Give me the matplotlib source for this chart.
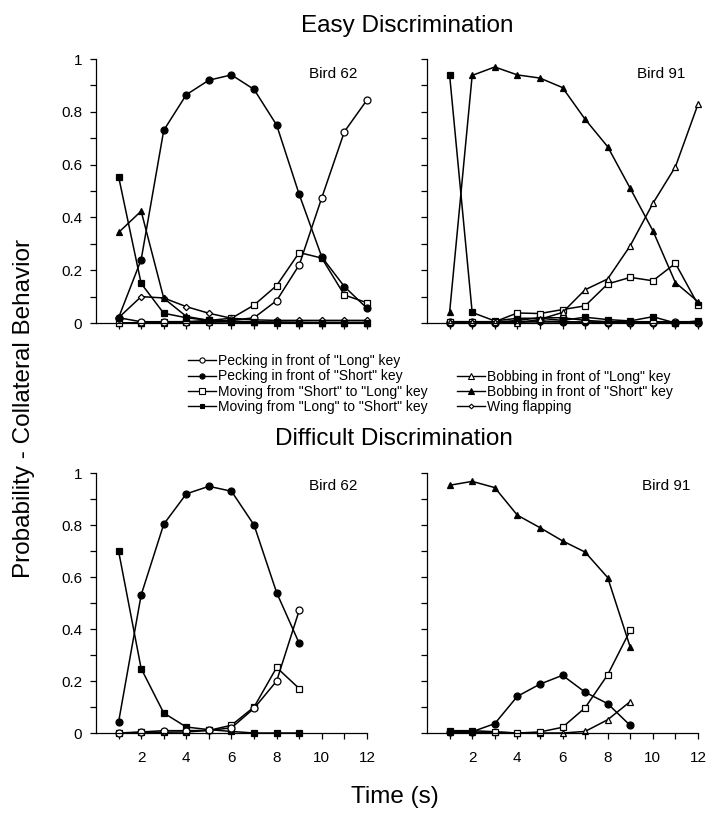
import numpy as np
import matplotlib.pyplot as plt
from matplotlib.lines import Line2D

plt.rcParams['font.family'] = ['Liberation Sans', 'DejaVu Sans']

# time bins (s)
t_easy = [1, 2, 3, 4, 5, 6, 7, 8, 9, 10, 11, 12]
t_diff = [1, 2, 3, 4, 5, 6, 7, 8, 9]

# Easy discrimination, Bird 62
e62_peck_long = [0.02, 0.005, 0.005, 0.005, 0.005, 0.01, 0.02, 0.085, 0.22, 0.475, 0.725, 0.845]
e62_peck_short = [0.02, 0.24, 0.73, 0.865, 0.92, 0.94, 0.885, 0.75, 0.487, 0.25, 0.138, 0.056]
e62_move_sl = [0.0, 0.002, 0.005, 0.005, 0.01, 0.018, 0.068, 0.142, 0.267, 0.246, 0.106, 0.077]
e62_move_ls = [0.555, 0.15, 0.037, 0.02, 0.01, 0.007, 0.005, 0.003, 0.002, 0.0, 0.0, 0.0]
e62_bob_long = [0.0, 0.0, 0.002, 0.003, 0.003, 0.004, 0.003, 0.003, 0.002, 0.002, 0.002, 0.002]
e62_bob_short = [0.343, 0.424, 0.094, 0.025, 0.01, 0.005, 0.003, 0.002, 0.002, 0.002, 0.002, 0.002]
e62_wing = [0.02, 0.10, 0.095, 0.062, 0.037, 0.018, 0.012, 0.01, 0.01, 0.01, 0.01, 0.01]

# Easy discrimination, Bird 91
e91_peck_long = [0.003, 0.003, 0.003, 0.01, 0.02, 0.02, 0.01, 0.005, 0.005, 0.005, 0.005, 0.005]
e91_peck_short = [0.002, 0.002, 0.002, 0.005, 0.008, 0.005, 0.003, 0.002, 0.002, 0.002, 0.002, 0.002]
e91_move_sl = [0.005, 0.005, 0.005, 0.038, 0.036, 0.051, 0.065, 0.148, 0.173, 0.16, 0.226, 0.07]
e91_move_ls = [0.94, 0.04, 0.008, 0.018, 0.018, 0.01, 0.022, 0.013, 0.008, 0.024, 0.0, 0.008]
e91_bob_long = [0.005, 0.005, 0.005, 0.0, 0.014, 0.04, 0.126, 0.167, 0.293, 0.453, 0.592, 0.829]
e91_bob_short = [0.04, 0.938, 0.97, 0.94, 0.928, 0.892, 0.772, 0.668, 0.51, 0.35, 0.153, 0.081]
e91_wing = [0.003, 0.003, 0.003, 0.003, 0.003, 0.003, 0.003, 0.003, 0.003, 0.003, 0.003, 0.003]

# Difficult discrimination, Bird 62
d62_peck_long = [0.0, 0.004, 0.009, 0.009, 0.01, 0.02, 0.095, 0.2, 0.472]
d62_peck_short = [0.042, 0.531, 0.803, 0.92, 0.949, 0.93, 0.80, 0.54, 0.345]
d62_move_sl = [0.0, 0.002, 0.003, 0.004, 0.01, 0.03, 0.1, 0.252, 0.171]
d62_move_ls = [0.70, 0.248, 0.077, 0.023, 0.013, 0.006, 0.0, 0.0, 0.0]

# Difficult discrimination, Bird 91
d91_peck_short = [0.005, 0.005, 0.036, 0.141, 0.188, 0.222, 0.157, 0.113, 0.029]
d91_move_sl = [0.009, 0.009, 0.005, 0.0, 0.004, 0.022, 0.097, 0.224, 0.395]
d91_bob_long = [0.003, 0.003, 0.003, 0.0, 0.0, 0.0, 0.006, 0.051, 0.121]
d91_bob_short = [0.953, 0.968, 0.944, 0.838, 0.79, 0.739, 0.696, 0.598, 0.33]

labels = ['Pecking in front of "Long" key', 'Pecking in front of "Short" key',
          'Moving from "Short" to "Long" key', 'Moving from "Long" to "Short" key',
          'Bobbing in front of "Long" key', 'Bobbing in front of "Short" key',
          'Wing flapping']

# marker style for each behaviour: (marker, facecolor, size)
styles = {
    'peck_long': ('o', 'white', 5),
    'peck_short': ('o', 'black', 5),
    'move_sl': ('s', 'white', 5),
    'move_ls': ('s', 'black', 4.5),
    'bob_long': ('^', 'white', 5),
    'bob_short': ('^', 'black', 5),
    'wing': ('D', 'white', 3.2),
}
keys = ['peck_long', 'peck_short', 'move_sl', 'move_ls', 'bob_long', 'bob_short', 'wing']


def draw(ax, t, series):
    for k, y in series:
        m, fc, ms = styles[k]
        ax.plot(t, y, color='black', lw=1.1, marker=m, ms=ms, mfc=fc, mec='black',
                mew=0.9, clip_on=False)


fig = plt.figure(figsize=(7.19, 8.18), dpi=100)
W = 0.3769
ax_tl = fig.add_axes([0.1335, 0.6051, W, 0.3227])
ax_tr = fig.add_axes([0.5939, 0.6051, W, 0.3227])
ax_bl = fig.add_axes([0.1335, 0.1039, W, 0.3178])
ax_br = fig.add_axes([0.5939, 0.1039, W, 0.3178])

draw(ax_tl, t_easy, [('wing', e62_wing), ('bob_long', e62_bob_long), ('move_sl', e62_move_sl),
                     ('peck_long', e62_peck_long), ('move_ls', e62_move_ls),
                     ('bob_short', e62_bob_short), ('peck_short', e62_peck_short)])
draw(ax_tr, t_easy, [('wing', e91_wing), ('peck_short', e91_peck_short), ('peck_long', e91_peck_long),
                     ('move_ls', e91_move_ls), ('move_sl', e91_move_sl),
                     ('bob_long', e91_bob_long), ('bob_short', e91_bob_short)])
draw(ax_bl, t_diff, [('move_ls', d62_move_ls), ('move_sl', d62_move_sl),
                     ('peck_long', d62_peck_long), ('peck_short', d62_peck_short)])
draw(ax_br, t_diff, [('bob_long', d91_bob_long), ('move_sl', d91_move_sl),
                     ('peck_short', d91_peck_short), ('bob_short', d91_bob_short)])

yt = np.round(np.arange(0, 1.01, 0.1), 1)
ylab = ['0', '', '0.2', '', '0.4', '', '0.6', '', '0.8', '', '1']
for ax in [ax_tl, ax_tr, ax_bl, ax_br]:
    ax.set_xlim(0, 12)
    ax.set_ylim(0, 1)
    ax.spines['top'].set_visible(False)
    ax.spines['right'].set_visible(False)
    ax.spines['left'].set_linewidth(0.9)
    ax.spines['bottom'].set_linewidth(0.9)
    ax.set_xticks(range(1, 13))
    ax.set_yticks(yt)
    ax.tick_params(direction='out', length=4, width=0.9, labelsize=11)
    ax.tick_params(axis='x', pad=9)
    ax.tick_params(axis='y', pad=6)
    ax.set_yticklabels([])
    ax.set_xticklabels([])
for ax in [ax_tl, ax_bl]:
    ax.set_yticklabels(ylab)
for ax in [ax_bl, ax_br]:
    ax.set_xticklabels([str(v) if v % 2 == 0 else '' for v in range(1, 13)])

ax_tl.text(9.45, 0.93, 'Bird 62', fontsize=11)
ax_tr.text(9.3, 0.93, 'Bird 91', fontsize=11)
ax_bl.text(9.45, 0.935, 'Bird 62', fontsize=11)
ax_br.text(9.5, 0.935, 'Bird 91', fontsize=11)

fig.text(407 / 719, 1 - 32 / 818, 'Easy Discrimination', fontsize=17.5, ha='center', va='baseline')
fig.text(394 / 719, 1 - 445 / 818, 'Difficult Discrimination', fontsize=17.5, ha='center', va='baseline')
fig.text(24 / 719, 0.5, 'Probability - Collateral Behavior', fontsize=17.5, rotation=90,
         ha='center', va='center')
fig.text(395 / 719, 1 - 797 / 818, 'Time (s)', fontsize=17.5, ha='center', va='center')

# legend: left column with four entries, right column starts on the second row
handles = []
for k in keys:
    m, fc, ms = styles[k]
    handles.append(Line2D([], [], color='black', lw=1.0, marker=m, ms=ms * 0.75, mfc=fc,
                          mec='black', mew=0.8))
leg_kw = dict(loc='upper left', frameon=False, fontsize=10, handlelength=2.0,
              handletextpad=0.15, labelspacing=0.1, borderpad=0, borderaxespad=0)
fig.legend(handles[:4], labels[:4], bbox_to_anchor=(188 / 719, 1 - 354 / 818), **leg_kw)
fig.legend(handles[4:], labels[4:], bbox_to_anchor=(457 / 719, 1 - 369.5 / 818), **leg_kw)

fig.savefig('out.png', dpi=100)
